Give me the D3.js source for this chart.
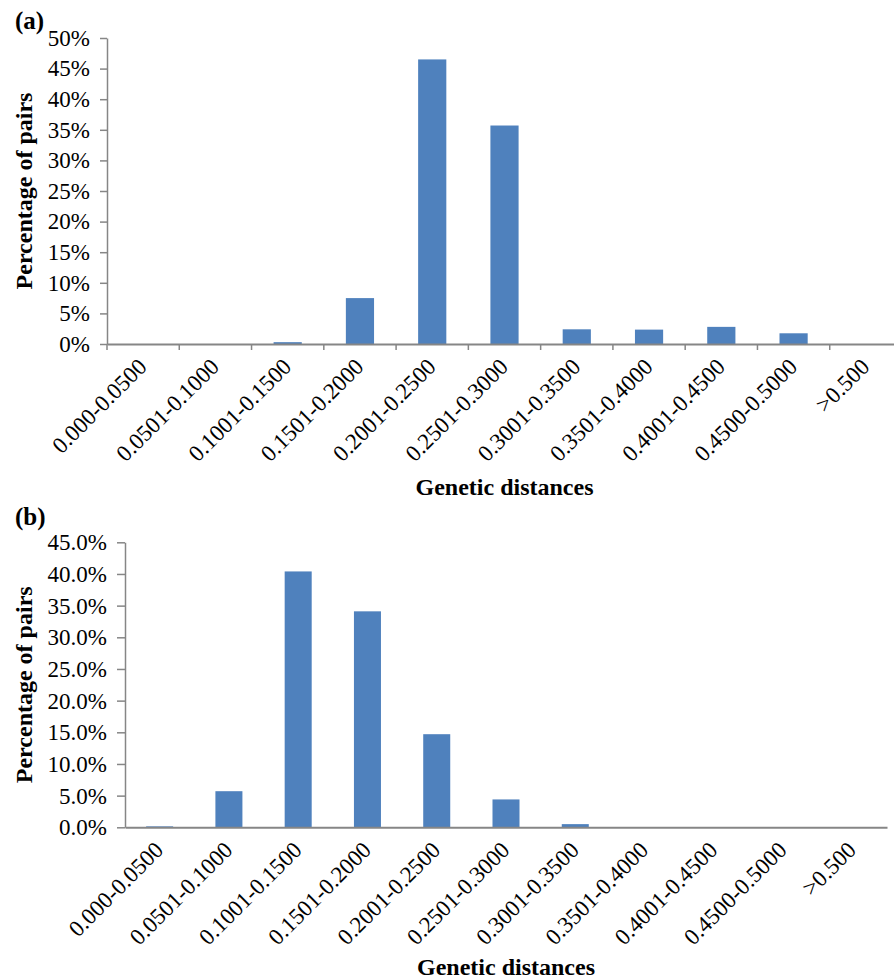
<!DOCTYPE html>
<html>
<head>
<meta charset="utf-8">
<script src="https://cdn.jsdelivr.net/npm/d3@7"></script>
<style>
  html, body { margin: 0; padding: 0; background: #fff; }
  svg { display: block; }
  svg text { font-family: "Liberation Serif", "Times New Roman", Times, "Nimbus Roman", "DejaVu Serif", serif; fill: #000; }
</style>
</head>
<body>
<script>
// Distance classes shared by both histograms
const categories = ["0.000-0.0500", "0.0501-0.1000", "0.1001-0.1500", "0.1501-0.2000",
  "0.2001-0.2500", "0.2501-0.3000", "0.3001-0.3500", "0.3501-0.4000",
  "0.4001-0.4500", "0.4500-0.5000", ">0.500"];

// Percentage of pairs in each class, panel (a)
const valuesA = [0, 0, 0.3, 7.5, 46.5, 35.7, 2.4, 2.35, 2.8, 1.75, 0];
// Percentage of pairs in each class, panel (b)
const valuesB = [0.15, 5.7, 40.4, 34.1, 14.7, 4.4, 0.5, 0, 0, 0, 0];

// Y tick values for each panel
const ticksA = [0, 5, 10, 15, 20, 25, 30, 35, 40, 45, 50];
const ticksB = [0, 5, 10, 15, 20, 25, 30, 35, 40, 45];

const W = 894, H = 980;
const barColor = "#4F81BD";
const axisColor = "#868686";
const serif = '"Liberation Serif", "Times New Roman", Times, "Nimbus Roman", "DejaVu Serif", serif';

const svg = d3.select("body").append("svg")
  .attr("width", W).attr("height", H)
  .attr("viewBox", `0 0 ${W} ${H}`)
  .attr("font-family", serif);

function panel(opts) {
  const { label, values, ticks, fmt, left, right, top, bottom,
          labelY, xTitleY, boundaryTicks, yTickSize } = opts;

  const g = svg.append("g");

  const x = d3.scaleBand().domain(categories).range([left, right])
    .paddingInner(0.61).paddingOuter(0.305);
  const y = d3.scaleLinear().domain([0, ticks[ticks.length - 1]]).range([bottom, top]);

  // bars
  g.selectAll("rect.bar").data(categories).join("rect")
    .attr("class", "bar")
    .attr("x", d => x(d))
    .attr("width", x.bandwidth())
    .attr("y", (d, i) => y(values[i]))
    .attr("height", (d, i) => bottom - y(values[i]))
    .attr("fill", barColor);

  // y axis
  const yAxis = g.append("g")
    .attr("transform", `translate(${left},0)`)
    .call(d3.axisLeft(y).tickValues(ticks).tickFormat(fmt)
      .tickSize(yTickSize).tickSizeOuter(0).tickPadding(10));
  yAxis.attr("font-family", serif).attr("font-size", 23);
  yAxis.select(".domain").attr("stroke", axisColor).attr("stroke-width", 1.5);
  yAxis.selectAll(".tick line").attr("stroke", axisColor).attr("stroke-width", 1.5);
  yAxis.selectAll(".tick text").attr("fill", "#000");

  // x axis
  const xAxis = g.append("g")
    .attr("transform", `translate(0,${bottom})`)
    .call(d3.axisBottom(x).tickSize(0).tickSizeOuter(0).tickPadding(0));
  xAxis.attr("font-family", serif).attr("font-size", 23);
  xAxis.select(".domain").attr("stroke", axisColor).attr("stroke-width", 2);
  xAxis.selectAll(".tick text")
    .attr("fill", "#000")
    .attr("text-anchor", "end")
    .attr("dy", 0).attr("y", 0)
    .attr("transform", "translate(5,24) rotate(-45)");

  if (boundaryTicks) {
    const bounds = categories.map(d => x(d) - x.step() * x.paddingInner() / 2);
    bounds.push(right);
    g.selectAll("line.btick").data(bounds).join("line")
      .attr("class", "btick")
      .attr("x1", d => d).attr("x2", d => d)
      .attr("y1", bottom).attr("y2", bottom + 6)
      .attr("stroke", axisColor).attr("stroke-width", 1.5);
  }

  // axis titles
  g.append("text")
    .attr("transform", `translate(32,${(top + bottom) / 2}) rotate(-90)`)
    .attr("text-anchor", "middle")
    .attr("font-size", 24).attr("font-weight", "bold")
    .text("Percentage of pairs");

  g.append("text")
    .attr("x", (left + right) / 2).attr("y", xTitleY)
    .attr("text-anchor", "middle")
    .attr("font-size", 24).attr("font-weight", "bold")
    .text("Genetic distances");

  // panel letter
  g.append("text")
    .attr("x", 15).attr("y", labelY)
    .attr("font-size", 25).attr("font-weight", "bold")
    .text(label);
}

panel({
  label: "(a)", values: valuesA, ticks: ticksA,
  fmt: d => d + "%",
  left: 107, right: 902, top: 38, bottom: 344,
  labelY: 29, xTitleY: 495, boundaryTicks: true, yTickSize: 7
});

panel({
  label: "(b)", values: valuesB, ticks: ticksB,
  fmt: d => d.toFixed(1) + "%",
  left: 125, right: 887, top: 542.3, bottom: 827.3,
  labelY: 525, xTitleY: 975, boundaryTicks: false, yTickSize: 8
});
</script>
</body>
</html>
